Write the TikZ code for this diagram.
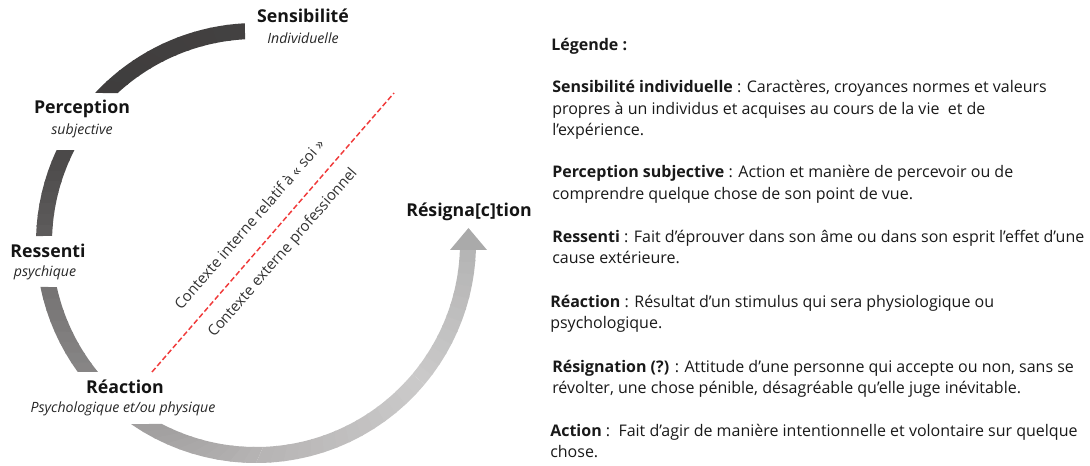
\documentclass[tikz,border=0pt]{standalone}
\usepackage{fontspec}
\setmainfont{Open Sans}
\usetikzlibrary{calc}
\definecolor{tA}{HTML}{3F3D3D}
\definecolor{tB}{HTML}{434141}
\definecolor{pA}{HTML}{4A4848}
\definecolor{pB}{HTML}{5E5C5C}
\definecolor{rA}{HTML}{757373}
\definecolor{rB}{HTML}{888686}
\definecolor{bA}{HTML}{A09E9E}
\definecolor{bB}{HTML}{B6B4B4}
\definecolor{bC}{HTML}{CBCACA}
\definecolor{bD}{HTML}{B4B4B4}
\definecolor{headc}{HTML}{AAAAAA}
\definecolor{dashred}{HTML}{F03A3A}
\newcommand\ringseg[7]{%
  \foreach \k in {1,...,#7}{%
    \pgfmathsetmacro\oa{#1+(#2-#1)*(\k-1)/#7}%
    \pgfmathsetmacro\ob{#1+(#2-#1)*\k/#7+0.5*(\k<#7)}%
    \pgfmathsetmacro\ia{#3+(#4-#3)*(\k-1)/#7}%
    \pgfmathsetmacro\ib{#3+(#4-#3)*\k/#7+0.5*(\k<#7)}%
    \pgfmathsetmacro\pc{100*(\k-0.5)/#7}%
    \fill[#6!\pc!#5] ($(C)+(\oa:220)$) arc[start angle=\oa, end angle=\ob, radius=220]
      -- ($(C)+(\ib:204)$) arc[start angle=\ib, end angle=\ia, radius=204] -- cycle;
  }}
\begin{document}
\begin{tikzpicture}[x=0.75pt,y=0.75pt,
  lab/.style={font=\fontsize{13.3}{15}\selectfont\bfseries, text=black!92, inner sep=0},
  sub/.style={font=\fontsize{10.6}{13}\selectfont\itshape, text=black!85, inner sep=0},
  leg/.style={font=\fontsize{12}{14}\selectfont, anchor=base west, inner sep=0, text=black!90},
  ctx/.style={font=\fontsize{11.2}{13}\selectfont, rotate=49, inner sep=0, text=black!80}]
\useasboundingbox (0,0) rectangle (1090,465);
\coordinate (C) at (256,222);
% ring segments
\ringseg{92.87}{137.0}{93.09}{132.7}{tB}{tA}{10}
\ringseg{155.0}{178.2}{152.9}{178.0}{pA}{pB}{8}
\ringseg{191.5}{215.9}{192.5}{219.2}{rA}{rB}{8}
\ringseg{235.4}{270}{242.5}{272}{bA}{bB}{10}
\ringseg{270}{320}{272}{320}{bB}{bC}{14}
\ringseg{320}{358.2}{320}{358.0}{bC}{bD}{12}
\coordinate (hl) at (450,215);
\coordinate (hr) at (487,215);
\coordinate (ht) at (468.5,237);
\fill[headc] (hl) -- (hr) -- (ht) -- cycle;
% dashed line
\coordinate (d1) at (152,93);
\coordinate (d2) at (394,372);
\draw[dashred, line width=1.1pt, dash pattern=on 4pt off 2pt] (d1) -- (d2);
\node[ctx] (ci) at (249,241) {Contexte interne relatif à «~soi~»};
\node[ctx] (ce) at (283,212) {Contexte externe professionnel};
% labels
\node[lab] (sens) at (303,449) {Sensibilité};
\node[sub] (sensi) at (303,427) {Individuelle};
\node[lab] (perc) at (82,356) {Perception};
\node[sub] (perci) at (82,334) {subjective};
\node[lab] (ress) at (48,214) {Ressenti};
\node[sub] (ressi) at (45,192) {psychique};
\node[lab] (reac) at (125,78) {Réaction};
\node[sub] (reaci) at (123,56) {Psychologique et/ou physique};
\node[lab] (resi) at (469,253) {Résigna[c]tion};
% legend
\node[leg] (lg) at (551,414) {\textbf{Légende :}};
\node[leg] (l1a) at (552,372) {\textbf{Sensibilité individuelle} : Caractères, croyances normes et valeurs};
\node[leg] (l1b) at (552,350.5) {propres à un individus et acquises au cours de la vie\ \ et de};
\node[leg] (l1c) at (552,329) {l’expérience.};
\node[leg] (l2a) at (552,287) {\textbf{Perception subjective} : Action et manière de percevoir ou de};
\node[leg] (l2b) at (552,265.5) {comprendre quelque chose de son point de vue.};
\node[leg] (l3a) at (552,223) {\textbf{Ressenti} : Fait d’éprouver dans son âme ou dans son esprit l’effet d’une};
\node[leg] (l3b) at (552,201.5) {cause extérieure.};
\node[leg] (l4a) at (550,158) {\textbf{Réaction} : Résultat d’un stimulus qui sera physiologique ou};
\node[leg] (l4b) at (550,136.5) {psychologique.};
\node[leg] (l5a) at (552,93) {\textbf{Résignation (?)} : Attitude d’une personne qui accepte ou non, sans se};
\node[leg] (l5b) at (552,71.5) {révolter, une chose pénible, désagréable qu’elle juge inévitable.};
\node[leg] (l6a) at (550,29) {\textbf{Action} :\ \ Fait d’agir de manière intentionnelle et volontaire sur quelque};
\node[leg] (l6b) at (550,7.5) {chose.};
\end{tikzpicture}
\end{document}
